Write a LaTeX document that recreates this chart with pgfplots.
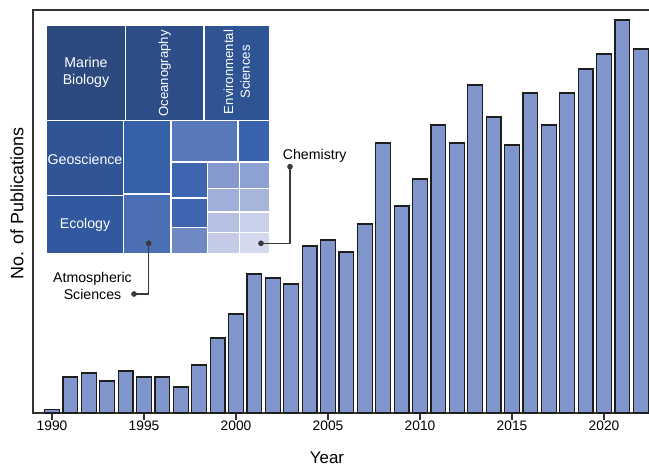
\documentclass[border=0pt]{standalone}
\usepackage{fontspec}
\setmainfont{Liberation Sans}
\usepackage{pgfplots}
\pgfplotsset{compat=1.18}
\usepackage{pgfplotstable}

\definecolor{barfill}{HTML}{7F95CB}
\definecolor{baredge}{HTML}{1E1E1E}
\definecolor{spine}{HTML}{333333}
\definecolor{leader}{HTML}{3A3A3A}
% treemap shades, darkest to lightest
\definecolor{tmA}{HTML}{2C4A7E}
\definecolor{tmB}{HTML}{2D4D88}
\definecolor{tmC}{HTML}{2F5494}
\definecolor{tmD}{HTML}{2F5596}
\definecolor{tmE}{HTML}{3259A0}
\definecolor{tmF}{HTML}{3660A8}
\definecolor{tmG}{HTML}{4A6FB4}
\definecolor{tmH}{HTML}{5779BB}
\definecolor{tmI}{HTML}{3963AD}
\definecolor{tmJ}{HTML}{3E66B0}
\definecolor{tmK}{HTML}{6F89C4}
\definecolor{tmL}{HTML}{8599CF}
\definecolor{tmM}{HTML}{8DA1D3}
\definecolor{tmN}{HTML}{A0AEDA}
\definecolor{tmO}{HTML}{A7B5DD}
\definecolor{tmP}{HTML}{B6C0E2}
\definecolor{tmQ}{HTML}{C9D0EA}
\definecolor{tmR}{HTML}{C3CBE6}
\definecolor{tmS}{HTML}{D4DAEE}

\pgfplotstableread{
year count
1990 3.7
1991 36
1992 40
1993 32
1994 42
1995 36
1996 36
1997 26
1998 48
1999 75
2000 99
2001 139
2002 135
2003 129
2004 167
2005 173
2006 161
2007 189
2008 270
2009 207
2010 234
2011 288
2012 270
2013 328
2014 296
2015 268
2016 320
2017 288
2018 320
2019 344
2020 359
2021 393
2022 364
}\pubs

% one treemap cell: x0, y0, x1, y1, colour
\newcommand\cell[5]{%
  \addplot[fill=#5, draw=white, line width=1.2bp]
    coordinates {(#1,#2) (#3,#2) (#3,#4) (#1,#4)} -- cycle;}

\begin{document}
\begin{tikzpicture}
\useasboundingbox (-33bp,-53bp) rectangle (616bp,413bp);

\begin{axis}[
  at={(0,0)}, anchor=south west,
  scale only axis, width=617bp, height=403bp,
  xmin=1988.967, xmax=2022.5, ymin=0, ymax=403,
  ybar, bar width=0.8,
  ytick=\empty,
  xtick={1990,1995,...,2020},
  tick pos=left, tick align=outside,
  major tick length=6.5bp,
  xtick style={spine, line width=1.1bp},
  axis line style={spine, line width=1.3bp},
  /pgf/number format/assume math mode=true,
  /pgf/number format/1000 sep={},
  xticklabel style={font=\fontsize{13.8}{16}\selectfont, anchor=north,
    inner sep=0pt, yshift=-1.5bp},
  xlabel={Year},
  ylabel={No. of Publications},
  every axis x label/.style={at={(axis description cs:0.4765,0)},
    anchor=base, yshift=-50bp, font=\fontsize{17}{20}\selectfont},
  every axis y label/.style={at={([xshift=-16bp]axis description cs:0,0.52)},
    anchor=center, rotate=90, font=\fontsize{18}{21}\selectfont},
]
\addplot[fill=barfill, draw=baredge, line width=1.1bp] table[x=year, y=count] {\pubs};
\end{axis}

% inset treemap of subject areas, laid out in picture units
\begin{axis}[
  at={(0,0)}, anchor=south west,
  scale only axis, width=617bp, height=403bp,
  xmin=33, xmax=650, ymin=10, ymax=413, y dir=reverse,
  hide axis, clip=false,
]
\cell{46.5}{25}{125.5}{120.5}{tmA}
\cell{125.5}{25}{204}{120.5}{tmB}
\cell{204}{25}{269.5}{120.5}{tmC}
\cell{46.5}{120.5}{123.5}{195.5}{tmD}
\cell{46.5}{195.5}{123.5}{253.5}{tmE}
\cell{123.5}{120.5}{171}{194}{tmF}
\cell{123.5}{194}{171}{253.5}{tmG}
\cell{171}{120.5}{238}{162}{tmH}
\cell{238}{120.5}{269.5}{162}{tmI}
\cell{171}{162}{207.5}{198}{tmJ}
\cell{171}{198}{207.5}{227.5}{tmJ}
\cell{171}{227.5}{207.5}{253.5}{tmK}
\cell{207.5}{162}{239.3}{188.7}{tmL}
\cell{239.3}{162}{269.5}{188.7}{tmM}
\cell{207.5}{188.7}{239.3}{212}{tmN}
\cell{239.3}{188.7}{269.5}{212}{tmO}
\cell{207.5}{212}{239.3}{232.8}{tmP}
\cell{239.3}{212}{269.5}{232.8}{tmQ}
\cell{207.5}{232.8}{239.3}{253.5}{tmR}
\cell{239.3}{232.8}{269.5}{253.5}{tmS}

\begin{scope}[every node/.style={text=white, align=center,
    font=\fontsize{14.2}{17.2}\selectfont, inner sep=0pt}]
\node at (axis cs:86,72.75) {Marine\\Biology};
\node at (axis cs:85,159) {Geoscience};
\node at (axis cs:85,224.5) {Ecology};
\end{scope}
\begin{scope}[every node/.style={text=white, align=center, rotate=90,
    font=\fontsize{13.2}{16.7}\selectfont, inner sep=0pt}]
\node at (axis cs:164.75,73.5) {Oceanography};
\node at (axis cs:236.75,72) {Environmental\\Sciences};
\end{scope}

% leader lines to the callout labels
\addplot[leader, line width=1.2bp, mark=*, mark size=2.2bp, mark indices={1,3},
  mark options={fill=leader}]
  coordinates {(261,243.3) (290,243.3) (290,166.7)};
\addplot[leader, line width=1.2bp, mark=*, mark size=2.2bp, mark indices={1,3},
  mark options={fill=leader}]
  coordinates {(148.7,243.3) (148.7,294) (134,294)};

\begin{scope}[every node/.style={text=black, align=center,
    font=\fontsize{14.2}{17}\selectfont, inner sep=0pt}]
\node[anchor=west] at (axis cs:282.7,155.7) {Chemistry};
\node at (axis cs:92.5,285.5) {Atmospheric\\Sciences};
\end{scope}
\end{axis}
\end{tikzpicture}
\end{document}
